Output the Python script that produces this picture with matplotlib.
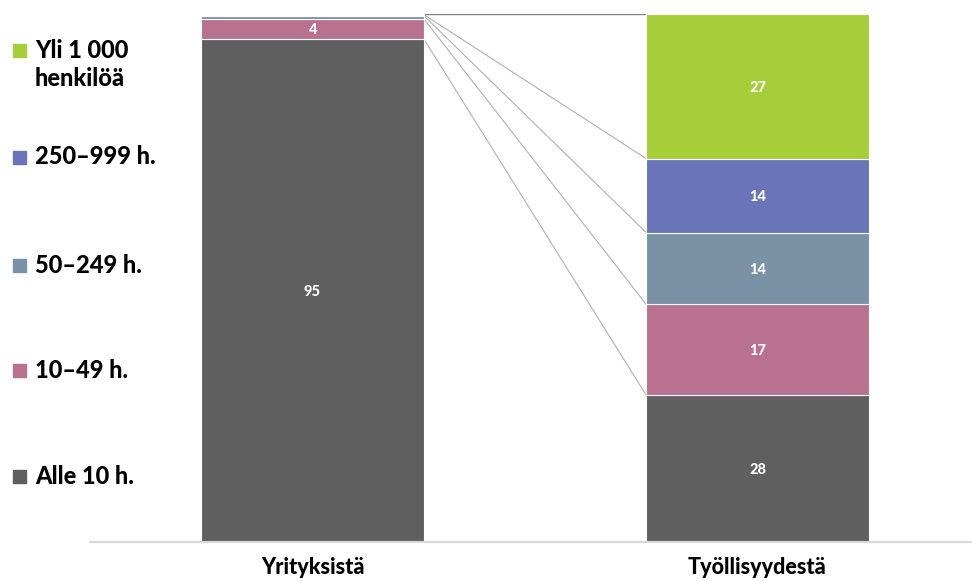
import matplotlib
matplotlib.use("Agg")
import matplotlib.pyplot as plt
from matplotlib import font_manager
from matplotlib.font_manager import FontProperties
import numpy as np
import os

def find_font(keys):
    files = [f.fname for f in font_manager.fontManager.ttflist]
    for key in keys:
        for fn in files:
            if os.path.basename(fn).lower().startswith(key.lower()):
                return fn
    return None

bold_file = find_font(['Lato-Black.', 'Lato-Heavy.', 'Lato-ExtraBold.', 'Lato-Bold.',
                       'Roboto-Black.', 'Roboto-Bold.', 'OpenSans-ExtraBold.',
                       'OpenSans-Bold.', 'DejaVuSans-Bold.'])

def fp(size):
    if bold_file:
        return FontProperties(fname=bold_file, size=size)
    return FontProperties(family='DejaVu Sans', weight='bold', size=size)

categories = ['Alle 10 h.', '10–49 h.', '50–249 h.', '250–999 h.', 'Yli 1 000\nhenkilöä']
bar_labels = ['Yrityksistä', 'Työllisyydestä']
yrityksista = [95.3, 3.8, 0.6, 0.2, 0.1]
tyollisyydesta = [27.8, 17.2, 13.6, 14.0, 27.4]
colors = ['#5f5f5f', '#b87290', '#7a92a5', '#6a75b9', '#a6ce39']

fig = plt.figure(figsize=(9.72, 5.81), dpi=100)
ax = fig.add_axes([90/972, 1-542/581, 1-90/972, (542-14)/581])

width = 0.5
series = [yrityksista, tyollisyydesta]
for xi, vals in enumerate(series):
    bottom = 0
    for v, c in zip(vals, colors):
        ax.bar(xi, v, width=width, bottom=bottom, color=c, edgecolor='white', linewidth=0.8)
        if v >= 2:
            ax.text(xi, bottom + v/2, f"{round(v):d}", ha='center', va='center_baseline',
                    color='white', fontproperties=fp(10.5))
        bottom += v

# connector lines
cl = np.cumsum(yrityksista)
cr = np.cumsum(tyollisyydesta)
for i, (a, b) in enumerate(zip(cl, cr)):
    col = '#808080' if i == len(cl)-1 else '#b0b0b0'
    lw = 1.0 if i == len(cl)-1 else 0.8
    ax.plot([width/2, 1-width/2], [a, b], color=col, linewidth=lw, zorder=0)

ax.set_xlim(-0.5, (972-312.5)/445)
ax.set_ylim(0, 100)
ax.set_xticks([0, 1])
ax.set_xticklabels(bar_labels)
for t in ax.get_xticklabels():
    t.set_fontproperties(fp(15.5))
ax.tick_params(axis='x', length=0, pad=11)
ax.set_yticks([])
for s in ['top', 'right', 'left']:
    ax.spines[s].set_visible(False)
ax.spines['bottom'].set_color('#d9d9d9')
ax.spines['bottom'].set_linewidth(1.5)

# legend
leg_y = [476, 370, 265, 157, 50]
for cat, c, y in zip(categories, colors, leg_y):
    fy = 1 - y/581
    fig.patches.append(plt.Rectangle((13/972, fy - 6.5/581), 13/972, 13/581,
                                     transform=fig.transFigure, color=c, figure=fig))
    if '\n' in cat:
        fig.text(35/972, fy + 11/581, cat, ha='left', va='top',
                 fontproperties=fp(17), linespacing=1.25)
    else:
        fig.text(35/972, fy, cat, ha='left', va='center', fontproperties=fp(17))

fig.savefig('out.png', dpi=100)
